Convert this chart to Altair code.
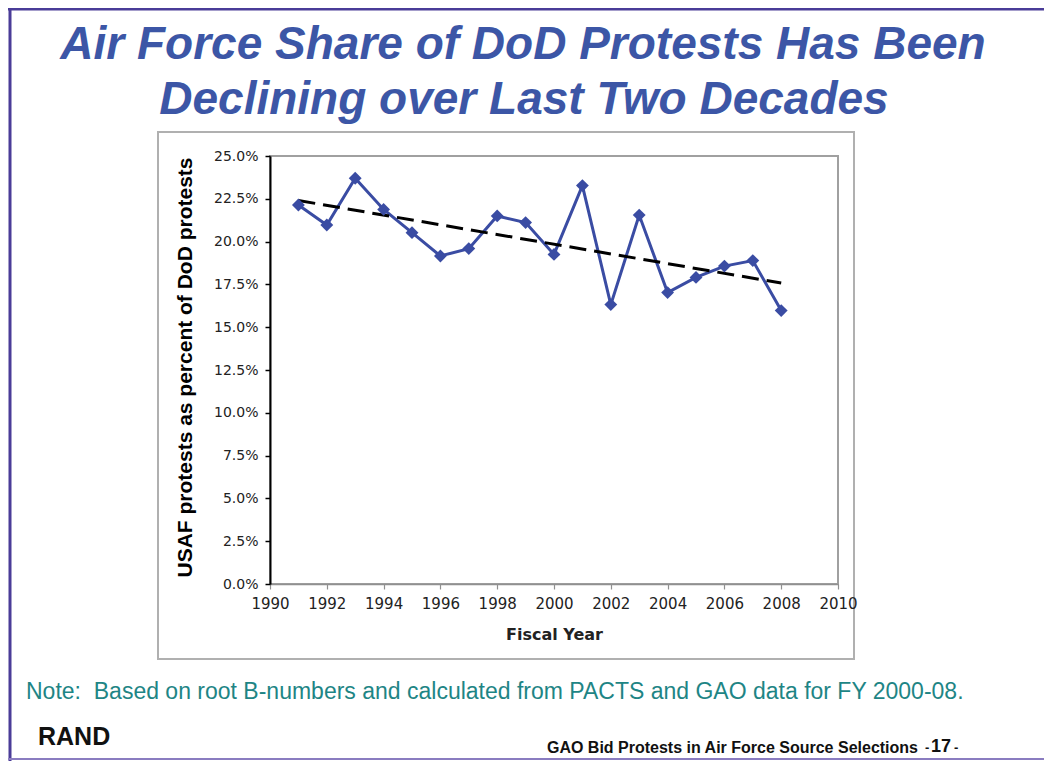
import altair as alt
import pandas as pd

# ---- data ----
years = [1991, 1992, 1993, 1994, 1995, 1996, 1997, 1998, 1999, 2000,
         2001, 2002, 2003, 2004, 2005, 2006, 2007, 2008]
share_pct = [22.14, 20.97, 23.70, 21.88, 20.52, 19.16, 19.59, 21.50, 21.11, 19.25,
             23.27, 16.32, 21.55, 17.02, 17.91, 18.57, 18.89, 15.97]
trend_years = [1991, 2008]
trend_pct = [22.40, 17.58]

y_ticks = [0, 2.5, 5, 7.5, 10, 12.5, 15, 17.5, 20, 22.5, 25]
x_ticks = [1990, 1992, 1994, 1996, 1998, 2000, 2002, 2004, 2006, 2008, 2010]

title_lines = ["Air Force Share of DoD Protests Has Been",
               "Declining over Last Two Decades"]
y_title = "USAF protests as percent of DoD protests"
x_title = "Fiscal Year"
note = "Note:\u00a0 Based on root B-numbers and calculated from PACTS and GAO data for FY 2000-08."
footer = "GAO Bid Protests in Air Force Source Selections"
page_no = "17"
brand = "RAND"

df = pd.DataFrame({"year": years, "share": share_pct})
trend = pd.DataFrame({"year": trend_years, "share": trend_pct})
dummy = alt.Data(values=[{"a": 1}])

BLUE = "#3a4ca3"
TITLE_BLUE = "#3c56a6"
TEAL = "#1e8585"
PURPLE = "#4a3c98"

PW, PH = 568, 428

xs = alt.Scale(domain=[1990, 2010], nice=False, zero=False)
ys = alt.Scale(domain=[0, 25], nice=False)

x_enc = alt.X("year:Q", scale=xs, axis=alt.Axis(
    values=x_ticks, format="d", title=x_title, labelFlush=False, labelOverlap=False,
    domainColor="#909090", domainWidth=1.5, tickColor="#909090", tickWidth=1.2, tickSize=5,
    labelFont="DejaVu Sans", labelFontSize=15, labelColor="#222222", labelPadding=7,
    titleFont="DejaVu Sans", titleFontSize=16, titleFontWeight="bold", titleColor="#222222",
    titleX=PW / 2, titleY=50, titleBaseline="middle", titleAlign="center", grid=False,
    zindex=1))
y_enc = alt.Y("share:Q", scale=ys, axis=alt.Axis(
    values=y_ticks, labelExpr="format(datum.value, '.1f') + '%'", title=y_title,
    labelOverlap=False, domainColor="#000000", domainWidth=2, tickColor="#000000",
    tickWidth=1.5, tickSize=5, labelFont="DejaVu Sans", labelFontSize=14,
    labelColor="#222222", labelPadding=7, titleFont="Liberation Sans", titleFontSize=21,
    titleFontWeight="bold", titleColor="#000000", titleAngle=270, titleX=-85, titleY=211,
    titleAlign="center", titleBaseline="middle", grid=False, zindex=1))


def label(text, x, y, size, color, weight="normal", style="normal", align="left",
          font="Liberation Sans"):
    return alt.Chart(dummy).mark_text(
        text=text, align=align, baseline="middle", fontSize=size, font=font,
        fontWeight=weight, fontStyle=style, color=color
    ).encode(x=alt.value(x), y=alt.value(y))


frame = alt.Chart(dummy).mark_rect(fill="white", fillOpacity=0, stroke="#b0b0b0",
                                   strokeWidth=2).encode(
    x=alt.value(-112), x2=alt.value(584), y=alt.value(-24), y2=alt.value(503))
plot_frame = alt.Chart(dummy).mark_rect(fill="white", fillOpacity=0, stroke="#a0a0a0",
                                        strokeWidth=2).encode(
    x=alt.value(0), x2=alt.value(PW), y=alt.value(0), y2=alt.value(PH))
left_border = alt.Chart(dummy).mark_rule(color=PURPLE, strokeWidth=3).encode(
    x=alt.value(-260), y=alt.value(-148), y2=alt.value(605))
top_border = alt.Chart(dummy).mark_rule(color=PURPLE, strokeWidth=3).encode(
    x=alt.value(-262), x2=alt.value(780), y=alt.value(-147))
bottom_border = alt.Chart(dummy).mark_rule(color="#8a7cc0", strokeWidth=2).encode(
    x=alt.value(-262), x2=alt.value(780), y=alt.value(603))

line = alt.Chart(df).mark_line(color=BLUE, strokeWidth=3).encode(x=x_enc, y=y_enc)
pts = alt.Chart(df).mark_point(shape="diamond", filled=True, size=165, color=BLUE,
                                opacity=1).encode(x="year:Q", y="share:Q")
trend_line = alt.Chart(trend).mark_line(color="black", strokeWidth=3,
                                        strokeDash=[17, 8]).encode(x="year:Q", y="share:Q")

texts = [
    label(title_lines[0], 253, -111, 46, TITLE_BLUE, "bold", "italic", "center"),
    label(title_lines[1], 254, -56, 46, TITLE_BLUE, "bold", "italic", "center"),
    label(note, -244, 536, 23, TEAL),
    label(brand, -232, 581, 25, "#111111", "bold"),
    label(footer, 648, 592, 16, "#111111", "bold", align="right"),
    label("-", 655, 592, 13, "#111111", "bold"),
    label(page_no, 661, 591, 18, "#111111", "bold"),
    label("-", 684, 592, 13, "#111111", "bold"),
]

chart = alt.layer(frame, plot_frame, left_border, top_border, bottom_border, line,
                  trend_line, pts, *texts).properties(
    width=PW, height=PH,
    autosize=alt.AutoSizeParams(type="none"),
    padding={"left": 262, "top": 148, "right": 206, "bottom": 177},
    background="white",
).configure_view(stroke=None)

chart.save("out.html", embed_options={"renderer": "svg", "actions": False})
